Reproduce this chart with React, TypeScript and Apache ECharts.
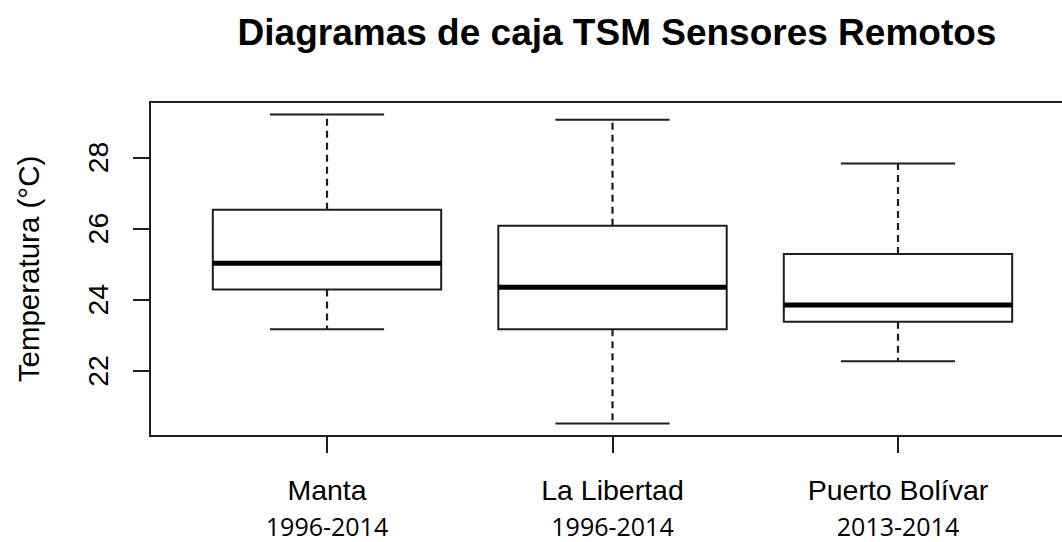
import React, { useEffect, useRef } from "react";
import * as echarts from "echarts";

const categories = ["Manta", "La Libertad", "Puerto Bolívar"];
const periods = ["1996-2014", "1996-2014", "2013-2014"];
const positions = [1, 2, 3];
const lowWhisker = [23.17, 20.52, 22.27];
const q1Values = [24.29, 23.17, 23.38];
const medianValues = [25.03, 24.35, 23.85];
const q3Values = [26.53, 26.08, 25.29];
const highWhisker = [29.21, 29.06, 27.83];
const yTicks = [22, 24, 26, 28];

const TITLE = "Diagramas de caja TSM Sensores Remotos";
const Y_NAME = "Temperatura (°C)";

const SANS = "Liberation Sans, Arial, sans-serif";

export default function App() {
  const ref = useRef<HTMLDivElement>(null);

  useEffect(() => {
    if (!ref.current) return;
    const chart = echarts.init(ref.current, null, { renderer: "svg" });
    const data = positions.map((p, i) => [
      p,
      lowWhisker[i],
      q1Values[i],
      medianValues[i],
      q3Values[i],
      highWhisker[i],
    ]);
    const lineColor = "#1e1e1e";
    const option: any = {
      animation: false,
      backgroundColor: "#ffffff",
      title: {
        text: TITLE,
        left: 612,
        top: 9,
        textAlign: "center",
        textStyle: {
          fontFamily: SANS,
          fontWeight: "bold",
          fontSize: 37,
          color: "#000",
        },
      },
      grid: {
        show: true,
        left: 150,
        top: 102,
        width: 925,
        height: 334,
        outerBoundsMode: "none",
        containLabel: false,
        borderColor: lineColor,
        borderWidth: 2,
        backgroundColor: "transparent",
      },
      xAxis: {
        type: "value",
        min: 0.38,
        max: 3.62,
        axisLine: { show: false },
        splitLine: { show: false },
        axisTick: {
          show: true,
          customValues: positions,
          length: 17,
          lineStyle: { color: lineColor, width: 2 },
        },
        axisLabel: {
          customValues: positions,
          margin: 30,
          formatter: (v: number) => {
            const i = positions.indexOf(Math.round(v));
            if (i < 0) return "";
            return `{a|${categories[i]}}\n{b|${periods[i]}}`;
          },
          rich: {
            a: {
              fontFamily: SANS,
              fontSize: 28.5,
              lineHeight: 47,
              color: "#000",
            },
            b: {
              fontFamily: "Open Sans, sans-serif",
              fontSize: 25,
              lineHeight: 25,
              color: "#000",
            },
          },
        },
      },
      yAxis: {
        type: "value",
        min: 20.17,
        max: 29.56,
        name: Y_NAME,
        nameLocation: "middle",
        nameRotate: 90,
        nameGap: 107,
        nameTextStyle: {
          fontFamily: SANS,
          fontSize: 29.5,
          color: "#000",
        },
        axisLine: { show: false },
        splitLine: { show: false },
        axisTick: {
          show: true,
          customValues: yTicks,
          length: 17,
          lineStyle: { color: lineColor, width: 2 },
        },
        axisLabel: {
          customValues: yTicks,
          rotate: 90,
          margin: 38,
          fontFamily: SANS,
          fontSize: 28.5,
          color: "#000",
        },
      },
      series: [
        {
          type: "custom",
          data,
          encode: { x: 0, y: [1, 2, 3, 4, 5] },
          renderItem: (_params: any, api: any) => {
            const x = api.value(0);
            const lo = api.coord([x, api.value(1)]);
            const a = api.coord([x, api.value(2)]);
            const m = api.coord([x, api.value(3)]);
            const b = api.coord([x, api.value(4)]);
            const hi = api.coord([x, api.value(5)]);
            const bw = api.size([0.8, 0])[0];
            const cx = lo[0];
            const half = bw / 2;
            const cap = bw / 4;
            const solid = { stroke: lineColor, lineWidth: 2, fill: null };
            const dashed = { stroke: lineColor, lineWidth: 2.2, lineDash: [7, 5] };
            return {
              type: "group",
              children: [
                {
                  type: "line",
                  shape: { x1: cx, y1: b[1], x2: cx, y2: hi[1] },
                  style: dashed,
                },
                {
                  type: "line",
                  shape: { x1: cx, y1: a[1], x2: cx, y2: lo[1] },
                  style: dashed,
                },
                {
                  type: "line",
                  shape: { x1: cx - cap, y1: hi[1], x2: cx + cap, y2: hi[1] },
                  style: solid,
                },
                {
                  type: "line",
                  shape: { x1: cx - cap, y1: lo[1], x2: cx + cap, y2: lo[1] },
                  style: solid,
                },
                {
                  type: "rect",
                  shape: { x: cx - half, y: b[1], width: bw, height: a[1] - b[1] },
                  style: { stroke: lineColor, lineWidth: 2, fill: "rgba(0,0,0,0)" },
                },
                {
                  type: "line",
                  shape: { x1: cx - half, y1: m[1], x2: cx + half, y2: m[1] },
                  style: { stroke: "#000", lineWidth: 5 },
                },
              ],
            };
          },
        },
      ],
    };
    chart.setOption(option);
    return () => chart.dispose();
  }, []);

  return (
    <div
      ref={ref}
      style={{ position: "fixed", left: 0, top: 0, width: 1062, height: 542, background: "#fff" }}
    />
  );
}
